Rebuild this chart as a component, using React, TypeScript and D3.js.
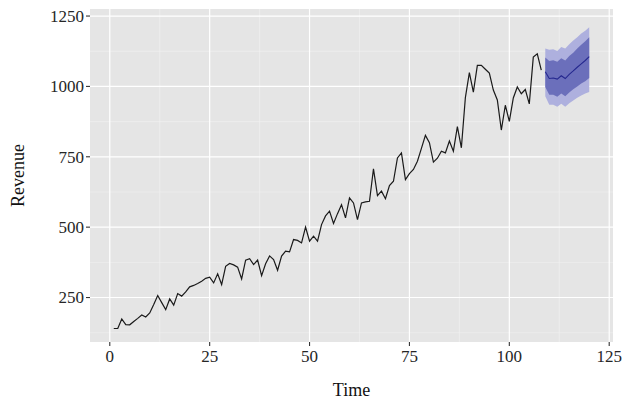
import React from "react";
import * as d3 from "d3";

const time: number[] = Array.from({ length: 108 }, (_, i) => i + 1);
const revenue: number[] = [
  140, 140, 174, 154, 153, 165, 176, 188, 181, 195,
  225, 257, 232, 207, 245, 223, 264, 255, 270, 288,
  293, 300, 308, 318, 322, 302, 334, 296, 361, 371,
  366, 358, 316, 383, 388, 367, 383, 328, 370, 398,
  385, 347, 397, 415, 412, 456, 453, 444, 500, 450,
  468, 450, 509, 540, 557, 513, 548, 580, 533, 604,
  586, 527, 586, 590, 592, 707, 612, 628, 601, 648,
  663, 746, 764, 669, 690, 705, 734, 780, 826, 800,
  731, 745, 770, 764, 806, 770, 857, 782, 960, 1049,
  980, 1075, 1075, 1061, 1047, 987, 952, 845, 933, 876,
  959, 998, 974, 989, 938, 1104, 1116, 1058,
];

const fcTime: number[] = [109, 110, 111, 112, 113, 114, 115, 116, 117, 118, 119, 120];
const fcMean: number[] = [1052, 1028, 1030, 1026, 1038, 1028, 1043, 1055, 1068, 1080, 1092, 1106];
const lo80: number[] = [998, 970, 970, 963, 975, 965, 978, 990, 1000, 1010, 1018, 1030];
const hi80: number[] = [1103, 1090, 1093, 1088, 1100, 1092, 1108, 1120, 1135, 1148, 1160, 1175];
const lo95: number[] = [965, 935, 935, 928, 938, 928, 940, 950, 960, 968, 975, 980];
const hi95: number[] = [1135, 1130, 1132, 1126, 1140, 1135, 1150, 1163, 1175, 1188, 1198, 1210];

const xTicks: number[] = [0, 25, 50, 75, 100, 125];
const xMinor: number[] = [12.5, 37.5, 62.5, 87.5, 112.5];
const yTicks: number[] = [250, 500, 750, 1000, 1250];
const yMinor: number[] = [125, 375, 625, 875, 1125];

const W = 639;
const H = 404;
const FONT = "'Liberation Serif', 'DejaVu Serif', serif";

export default function App() {
  const x = d3.scaleLinear().domain([-4.95, 125.95]).range([90, 613]);
  const y = d3.scaleLinear().domain([92, 1275]).range([342, 9]);
  const [px0, px1] = x.range();
  const [py0, py1] = y.range();

  const line = d3
    .line<number>()
    .x((_, i) => x(time[i]))
    .y((d) => y(d));
  const fcLine = d3
    .line<number>()
    .x((_, i) => x(fcTime[i]))
    .y((d) => y(d));
  const band = (lo: number[], hi: number[]) =>
    d3
      .area<number>()
      .x((_, i) => x(fcTime[i]))
      .y0((_, i) => y(lo[i]))
      .y1((_, i) => y(hi[i]))(fcTime) as string;

  return (
    <svg width={W} height={H} style={{ position: "absolute", left: 0, top: 0 }}>
      <rect x={0} y={0} width={W} height={H} fill="#ffffff" />
      <rect x={px0} y={py1} width={px1 - px0} height={py0 - py1} fill="#e5e5e5" />
      {xMinor.map((t) => (
        <line key={"xm" + t} x1={x(t)} x2={x(t)} y1={py1} y2={py0} stroke="#f2f2f2" strokeWidth={0.6} />
      ))}
      {yMinor.map((t) => (
        <line key={"ym" + t} x1={px0} x2={px1} y1={y(t)} y2={y(t)} stroke="#f2f2f2" strokeWidth={0.6} />
      ))}
      {xTicks.map((t) => (
        <line key={"xg" + t} x1={x(t)} x2={x(t)} y1={py1} y2={py0} stroke="#ffffff" strokeWidth={1.2} />
      ))}
      {yTicks.map((t) => (
        <line key={"yg" + t} x1={px0} x2={px1} y1={y(t)} y2={y(t)} stroke="#ffffff" strokeWidth={1.2} />
      ))}
      <path d={band(lo95, hi95)} fill="#aeb0de" />
      <path d={band(lo80, hi80)} fill="#6b6fbb" />
      <path d={line(revenue) as string} fill="none" stroke="#1a1a1a" strokeWidth={1.2} />
      <path d={fcLine(fcMean) as string} fill="none" stroke="#25288f" strokeWidth={1.1} />
      {xTicks.map((t) => (
        <g key={"xt" + t}>
          <line x1={x(t)} x2={x(t)} y1={py0} y2={py0 + 4} stroke="#333333" strokeWidth={1.1} />
          <text x={x(t)} y={py0 + 20} textAnchor="middle" fontFamily={FONT} fontSize={17} fill="#262626">
            {t}
          </text>
        </g>
      ))}
      {yTicks.map((t) => (
        <g key={"yt" + t}>
          <line x1={px0 - 4} x2={px0} y1={y(t)} y2={y(t)} stroke="#333333" strokeWidth={1.1} />
          <text x={px0 - 6} y={y(t)} dy="0.35em" textAnchor="end" fontFamily={FONT} fontSize={17} fill="#262626">
            {t}
          </text>
        </g>
      ))}
      <text x={(px0 + px1) / 2} y={396} textAnchor="middle" fontFamily={FONT} fontSize={18} fill="#111111">
        Time
      </text>
      <text
        transform={`translate(24, ${(py0 + py1) / 2}) rotate(-90)`}
        textAnchor="middle"
        fontFamily={FONT}
        fontSize={18}
        fill="#111111"
      >
        Revenue
      </text>
    </svg>
  );
}
